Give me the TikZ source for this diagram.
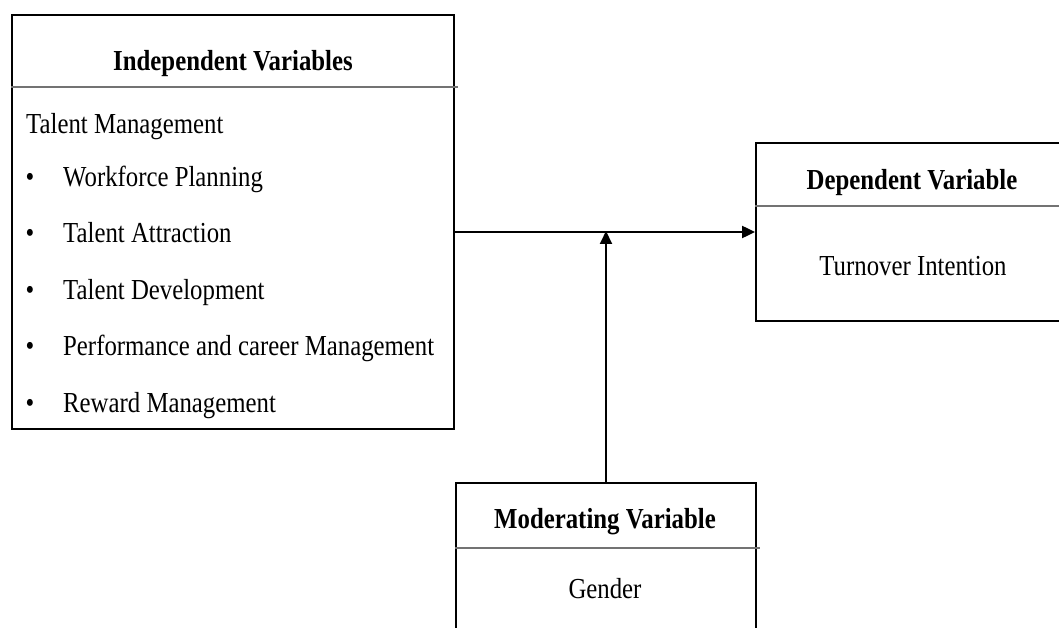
\documentclass[tikz,border=0pt]{standalone}
\usepackage{fontspec}
\setmainfont[FakeStretch=0.855]{Liberation Serif}
\usetikzlibrary{arrows.meta}
\tikzset{
  box/.style={draw=black, line width=1.8pt, inner sep=0pt, fill=none},
  sepline/.style={draw=black!55, line width=1.3pt},
  conn/.style={draw=black, line width=2pt, -{Triangle[length=13pt,width=12pt]}},
  txt/.style={anchor=base, inner sep=0pt, font=\fontsize{29}{34}\selectfont},
  head/.style={txt, font=\fontsize{29}{34}\selectfont\bfseries},
  item/.style={txt, anchor=base west},
  bul/.style={txt, anchor=base}
}
\begin{document}
\begin{tikzpicture}[x=1pt,y=-1pt]
\useasboundingbox (0,0) rectangle (1059,628);
% boxes
\node[box, minimum width=442pt, minimum height=414pt] (lbox) at (233,222) {};
\node[box, minimum width=320pt, minimum height=178pt] (rbox) at (916,232) {};
\node[box, minimum width=300pt, minimum height=160pt] (mbox) at (606,563) {};
% separators
\draw[sepline] (lbox.west |- 0,87) -- ([xshift=3pt]lbox.east |- 0,87);
\draw[sepline] (rbox.west |- 0,206) -- (rbox.east |- 0,206);
\draw[sepline] (mbox.west |- 0,548) -- ([xshift=3pt]mbox.east |- 0,548);
% left box texts
\node[head] (lhead) at (233,71) {Independent Variables};
\node[item] (tm) at (26,134) {Talent Management};
\node[bul] (b1) at (30,187) {•};
\node[item] (i1) at (63,187) {Workforce Planning};
\node[bul] (b2) at (30,243) {•};
\node[item] (i2) at (63,243) {Talent Attraction};
\node[bul] (b3) at (30,299) {•};
\node[item] (i3) at (63,299) {Talent Development};
\node[bul] (b4) at (30,355) {•};
\node[item] (i4) at (63,355) {Performance and career Management};
\node[bul] (b5) at (30,412) {•};
\node[item] (i5) at (63,412) {Reward Management};
% right box texts
\node[head] (rhead) at (912,190) {Dependent Variable};
\node[txt] (rbody) at (913,275) {Turnover Intention};
% bottom box texts
\node[head] (mhead) at (605,528) {Moderating Variable};
\node[txt] (mbody) at (605,598) {Gender};
% connectors
\coordinate (mid) at (mbox.north |- 0,232);
\draw[conn] (lbox.east |- mid) -- (rbox.west |- mid);
\draw[conn] (mbox.north) -- ([yshift=1pt]mid);
\end{tikzpicture}
\end{document}
